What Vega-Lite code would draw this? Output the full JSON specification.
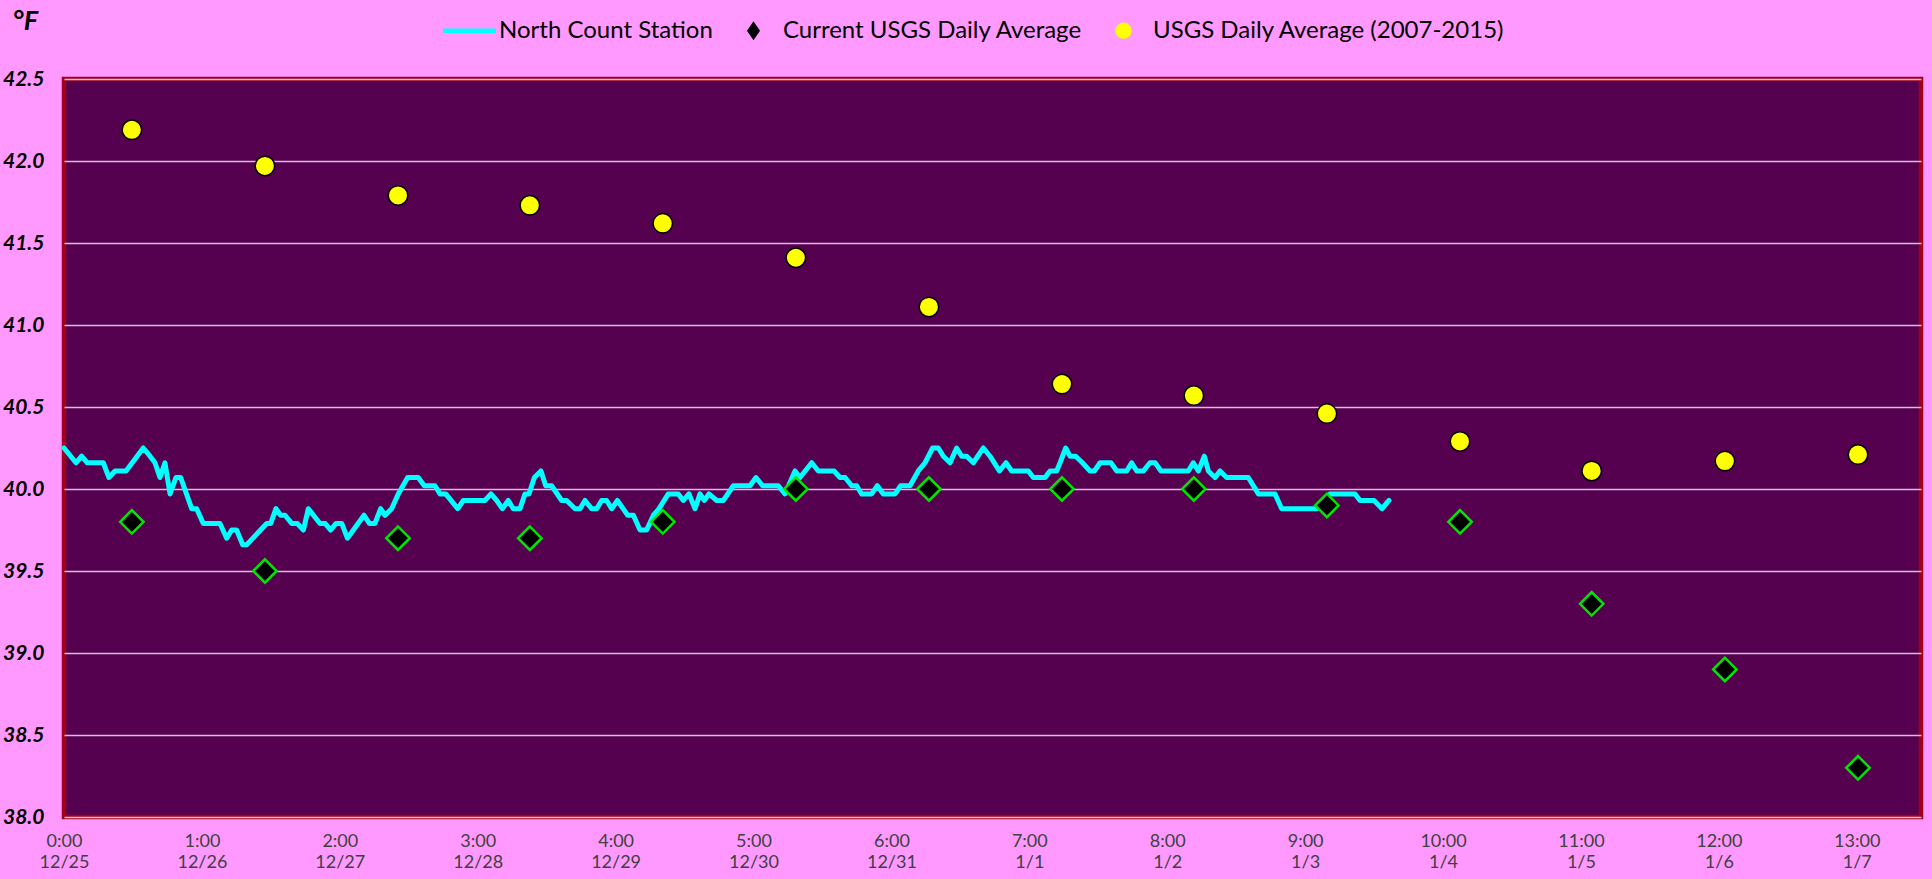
{
  "$schema": "https://vega.github.io/schema/vega-lite/v6.json",
  "width": 1857,
  "height": 738,
  "autosize": {"type": "none"},
  "padding": {"left": 64, "top": 79, "right": 11, "bottom": 62},
  "background": "#FF99FF",
  "config": {
    "view": {"fill": "#560050", "stroke": "#A0001E", "strokeWidth": 4.5},
    "font": "Lato"
  },
  "datasets": {
    "north": [
      {"day": 0, "temp": 40.25}, {"day": 0.087, "temp": 40.16}, {"day": 0.128, "temp": 40.2}, {"day": 0.169, "temp": 40.16},
      {"day": 0.285, "temp": 40.16}, {"day": 0.326, "temp": 40.07}, {"day": 0.37, "temp": 40.11}, {"day": 0.45, "temp": 40.11},
      {"day": 0.575, "temp": 40.25}, {"day": 0.624, "temp": 40.2}, {"day": 0.66, "temp": 40.16}, {"day": 0.696, "temp": 40.07},
      {"day": 0.732, "temp": 40.16}, {"day": 0.769, "temp": 39.97}, {"day": 0.812, "temp": 40.07}, {"day": 0.846, "temp": 40.07},
      {"day": 0.926, "temp": 39.88}, {"day": 0.962, "temp": 39.88}, {"day": 1.01, "temp": 39.79}, {"day": 1.131, "temp": 39.79},
      {"day": 1.18, "temp": 39.7}, {"day": 1.216, "temp": 39.75}, {"day": 1.252, "temp": 39.75}, {"day": 1.296, "temp": 39.66},
      {"day": 1.325, "temp": 39.66}, {"day": 1.47, "temp": 39.79}, {"day": 1.499, "temp": 39.79}, {"day": 1.537, "temp": 39.88},
      {"day": 1.571, "temp": 39.84}, {"day": 1.603, "temp": 39.84}, {"day": 1.651, "temp": 39.79}, {"day": 1.692, "temp": 39.79},
      {"day": 1.736, "temp": 39.75}, {"day": 1.772, "temp": 39.88}, {"day": 1.856, "temp": 39.79}, {"day": 1.893, "temp": 39.79},
      {"day": 1.934, "temp": 39.75}, {"day": 1.972, "temp": 39.79}, {"day": 2.014, "temp": 39.79}, {"day": 2.055, "temp": 39.7},
      {"day": 2.176, "temp": 39.84}, {"day": 2.214, "temp": 39.79}, {"day": 2.255, "temp": 39.79}, {"day": 2.296, "temp": 39.88},
      {"day": 2.328, "temp": 39.84}, {"day": 2.376, "temp": 39.88}, {"day": 2.424, "temp": 39.97}, {"day": 2.492, "temp": 40.07},
      {"day": 2.569, "temp": 40.07}, {"day": 2.613, "temp": 40.02}, {"day": 2.69, "temp": 40.02}, {"day": 2.727, "temp": 39.97},
      {"day": 2.768, "temp": 39.97}, {"day": 2.855, "temp": 39.88}, {"day": 2.896, "temp": 39.93}, {"day": 3.053, "temp": 39.93},
      {"day": 3.096, "temp": 39.97}, {"day": 3.138, "temp": 39.93}, {"day": 3.179, "temp": 39.88}, {"day": 3.222, "temp": 39.93},
      {"day": 3.258, "temp": 39.88}, {"day": 3.307, "temp": 39.88}, {"day": 3.343, "temp": 39.97}, {"day": 3.372, "temp": 39.97},
      {"day": 3.411, "temp": 40.07}, {"day": 3.459, "temp": 40.11}, {"day": 3.493, "temp": 40.02}, {"day": 3.536, "temp": 40.02},
      {"day": 3.609, "temp": 39.93}, {"day": 3.645, "temp": 39.93}, {"day": 3.706, "temp": 39.88}, {"day": 3.742, "temp": 39.88},
      {"day": 3.778, "temp": 39.93}, {"day": 3.826, "temp": 39.88}, {"day": 3.863, "temp": 39.88}, {"day": 3.899, "temp": 39.93},
      {"day": 3.935, "temp": 39.93}, {"day": 3.972, "temp": 39.88}, {"day": 4.013, "temp": 39.93}, {"day": 4.088, "temp": 39.84},
      {"day": 4.129, "temp": 39.84}, {"day": 4.177, "temp": 39.75}, {"day": 4.225, "temp": 39.75}, {"day": 4.274, "temp": 39.84},
      {"day": 4.315, "temp": 39.88}, {"day": 4.382, "temp": 39.97}, {"day": 4.455, "temp": 39.97}, {"day": 4.491, "temp": 39.93},
      {"day": 4.532, "temp": 39.97}, {"day": 4.576, "temp": 39.88}, {"day": 4.612, "temp": 39.97}, {"day": 4.643, "temp": 39.93},
      {"day": 4.677, "temp": 39.97}, {"day": 4.733, "temp": 39.93}, {"day": 4.781, "temp": 39.93}, {"day": 4.854, "temp": 40.02},
      {"day": 4.975, "temp": 40.02}, {"day": 5.018, "temp": 40.07}, {"day": 5.066, "temp": 40.02}, {"day": 5.18, "temp": 40.02},
      {"day": 5.228, "temp": 39.97}, {"day": 5.301, "temp": 40.11}, {"day": 5.337, "temp": 40.07}, {"day": 5.422, "temp": 40.16},
      {"day": 5.47, "temp": 40.11}, {"day": 5.584, "temp": 40.11}, {"day": 5.627, "temp": 40.07}, {"day": 5.664, "temp": 40.07},
      {"day": 5.712, "temp": 40.02}, {"day": 5.748, "temp": 40.02}, {"day": 5.784, "temp": 39.97}, {"day": 5.857, "temp": 39.97},
      {"day": 5.898, "temp": 40.02}, {"day": 5.941, "temp": 39.97}, {"day": 6.026, "temp": 39.97}, {"day": 6.067, "temp": 40.02},
      {"day": 6.135, "temp": 40.02}, {"day": 6.195, "temp": 40.11}, {"day": 6.244, "temp": 40.16}, {"day": 6.299, "temp": 40.25},
      {"day": 6.34, "temp": 40.25}, {"day": 6.377, "temp": 40.2}, {"day": 6.425, "temp": 40.16}, {"day": 6.473, "temp": 40.25},
      {"day": 6.51, "temp": 40.2}, {"day": 6.546, "temp": 40.2}, {"day": 6.594, "temp": 40.16}, {"day": 6.667, "temp": 40.25},
      {"day": 6.715, "temp": 40.2}, {"day": 6.783, "temp": 40.11}, {"day": 6.831, "temp": 40.16}, {"day": 6.872, "temp": 40.11},
      {"day": 6.993, "temp": 40.11}, {"day": 7.029, "temp": 40.07}, {"day": 7.114, "temp": 40.07}, {"day": 7.15, "temp": 40.11},
      {"day": 7.198, "temp": 40.11}, {"day": 7.223, "temp": 40.16}, {"day": 7.264, "temp": 40.25}, {"day": 7.295, "temp": 40.2},
      {"day": 7.336, "temp": 40.2}, {"day": 7.385, "temp": 40.16}, {"day": 7.44, "temp": 40.11}, {"day": 7.472, "temp": 40.11},
      {"day": 7.513, "temp": 40.16}, {"day": 7.592, "temp": 40.16}, {"day": 7.634, "temp": 40.11}, {"day": 7.706, "temp": 40.11},
      {"day": 7.742, "temp": 40.16}, {"day": 7.779, "temp": 40.11}, {"day": 7.827, "temp": 40.11}, {"day": 7.875, "temp": 40.16},
      {"day": 7.912, "temp": 40.16}, {"day": 7.955, "temp": 40.11}, {"day": 8.153, "temp": 40.11}, {"day": 8.189, "temp": 40.16},
      {"day": 8.226, "temp": 40.11}, {"day": 8.269, "temp": 40.2}, {"day": 8.298, "temp": 40.11}, {"day": 8.347, "temp": 40.07},
      {"day": 8.383, "temp": 40.11}, {"day": 8.431, "temp": 40.07}, {"day": 8.588, "temp": 40.07}, {"day": 8.661, "temp": 39.97},
      {"day": 8.782, "temp": 39.97}, {"day": 8.83, "temp": 39.88}, {"day": 9.085, "temp": 39.88}, {"day": 9.18, "temp": 39.97},
      {"day": 9.362, "temp": 39.97}, {"day": 9.398, "temp": 39.93}, {"day": 9.5, "temp": 39.93}, {"day": 9.558, "temp": 39.88},
      {"day": 9.608, "temp": 39.93}
    ],
    "usgs": [
      {"day": 0.492, "series": "current", "temp": 39.8}, {"day": 1.457, "series": "current", "temp": 39.5},
      {"day": 2.422, "series": "current", "temp": 39.7}, {"day": 3.378, "series": "current", "temp": 39.7},
      {"day": 4.342, "series": "current", "temp": 39.8}, {"day": 5.307, "series": "current", "temp": 40.0},
      {"day": 6.272, "series": "current", "temp": 40.0}, {"day": 7.237, "series": "current", "temp": 40.0},
      {"day": 8.193, "series": "current", "temp": 40.0}, {"day": 9.158, "series": "current", "temp": 39.9},
      {"day": 10.123, "series": "current", "temp": 39.8}, {"day": 11.078, "series": "current", "temp": 39.3},
      {"day": 12.044, "series": "current", "temp": 38.9}, {"day": 13.009, "series": "current", "temp": 38.3},
      {"day": 0.492, "series": "hist", "temp": 42.19}, {"day": 1.457, "series": "hist", "temp": 41.97},
      {"day": 2.422, "series": "hist", "temp": 41.79}, {"day": 3.378, "series": "hist", "temp": 41.73},
      {"day": 4.342, "series": "hist", "temp": 41.62}, {"day": 5.307, "series": "hist", "temp": 41.41},
      {"day": 6.272, "series": "hist", "temp": 41.11}, {"day": 7.237, "series": "hist", "temp": 40.64},
      {"day": 8.193, "series": "hist", "temp": 40.57}, {"day": 9.158, "series": "hist", "temp": 40.46},
      {"day": 10.123, "series": "hist", "temp": 40.29}, {"day": 11.078, "series": "hist", "temp": 40.11},
      {"day": 12.044, "series": "hist", "temp": 40.17}, {"day": 13.009, "series": "hist", "temp": 40.21}
    ]
  },
  "encoding": {
    "x": {
      "field": "day", "type": "quantitative",
      "scale": {"domain": [0, 13.466], "nice": false, "zero": false},
      "axis": {
        "title": null, "values": [0, 1, 2, 3, 4, 5, 6, 7, 8, 9, 10, 11, 12, 13],
        "labelExpr": "[datum.value + ':00', ['12/25','12/26','12/27','12/28','12/29','12/30','12/31','1/1','1/2','1/3','1/4','1/5','1/6','1/7'][datum.value]]",
        "ticks": false, "domain": false, "grid": false,
        "labelFont": "Lato", "labelFontSize": 18, "labelColor": "#404040",
        "labelPadding": 15, "labelLineHeight": 21, "labelBaseline": "top",
        "labelOverlap": false, "labelFlush": false, "labelBound": false
      }
    },
    "y": {
      "field": "temp", "type": "quantitative", "title": "°F",
      "scale": {"domain": [38, 42.5], "nice": false, "zero": false},
      "axis": {
        "values": [38, 38.5, 39, 39.5, 40, 40.5, 41, 41.5, 42, 42.5], "format": ".1f",
        "titleAngle": 0, "titleX": -52, "titleY": -58, "titleAlign": "left", "titleBaseline": "middle",
        "titleFont": "Lato", "titleFontSize": 27, "titleFontStyle": "italic", "titleFontWeight": "bold", "titleColor": "black",
        "labelFont": "Lato", "labelFontSize": 21, "labelFontStyle": "italic", "labelFontWeight": "bold", "labelColor": "black",
        "labelPadding": 20, "ticks": false, "domain": false,
        "grid": true, "gridColor": "#D8BCD8", "gridWidth": 1.5,
        "labelFlush": false, "labelOverlap": false
      }
    }
  },
  "layer": [
    {
      "data": {"name": "north"},
      "mark": {"type": "line", "strokeWidth": 5, "strokeJoin": "round", "strokeCap": "round"},
      "encoding": {
        "color": {
          "datum": "North Count Station", "type": "nominal",
          "scale": {"domain": ["North Count Station", "Current USGS Daily Average", "USGS Daily Average (2007-2015)"], "range": ["#00FFFF", "#000000", "#FFFF00"]},
          "legend": {
            "orient": "none", "legendX": 379, "legendY": -75, "direction": "horizontal", "title": null,
            "symbolSize": 2601, "symbolStrokeWidth": 2,
            "labelFont": "Lato", "labelFontSize": 24, "labelColor": "black",
            "labelLimit": 800, "labelOffset": 3, "columnPadding": 11, "padding": 0,
            "encode": {
              "symbols": {
                "update": {
                  "shape": {"signal": "datum.value === 'North Count Station' ? 'M-1,-0.05L1,-0.05L1,0.05L-1,0.05Z' : datum.value === 'Current USGS Daily Average' ? 'M-1,0M0,-0.3L0.21,0L0,0.3L-0.21,0ZM1,0' : 'M-1,0M0.28,0A0.28,0.28,0,1,1,-0.28,0A0.28,0.28,0,1,1,0.28,0ZM1,0'"},
                  "size": {"value": 2601},
                  "fill": {"signal": "datum.value === 'North Count Station' ? '#00FFFF' : datum.value === 'Current USGS Daily Average' ? 'black' : '#FFFF00'"},
                  "stroke": {"signal": "datum.value === 'North Count Station' ? '#00FFFF' : datum.value === 'Current USGS Daily Average' ? '#00E600' : 'black'"},
                  "strokeWidth": {"value": 2},
                  "opacity": {"value": 1}
                }
              }
            }
          }
        }
      }
    },
    {
      "data": {"name": "usgs"},
      "transform": [{"filter": "datum.series === 'current'"}],
      "mark": {"type": "point", "shape": "diamond", "filled": true, "size": 550, "stroke": "#00E600", "strokeWidth": 2.5, "opacity": 1},
      "encoding": {"color": {"datum": "Current USGS Daily Average", "type": "nominal"}}
    },
    {
      "data": {"name": "usgs"},
      "transform": [{"filter": "datum.series === 'hist'"}],
      "mark": {"type": "point", "shape": "circle", "filled": true, "size": 380, "stroke": "black", "strokeWidth": 1.5, "opacity": 1},
      "encoding": {"color": {"datum": "USGS Daily Average (2007-2015)", "type": "nominal"}}
    }
  ]
}
